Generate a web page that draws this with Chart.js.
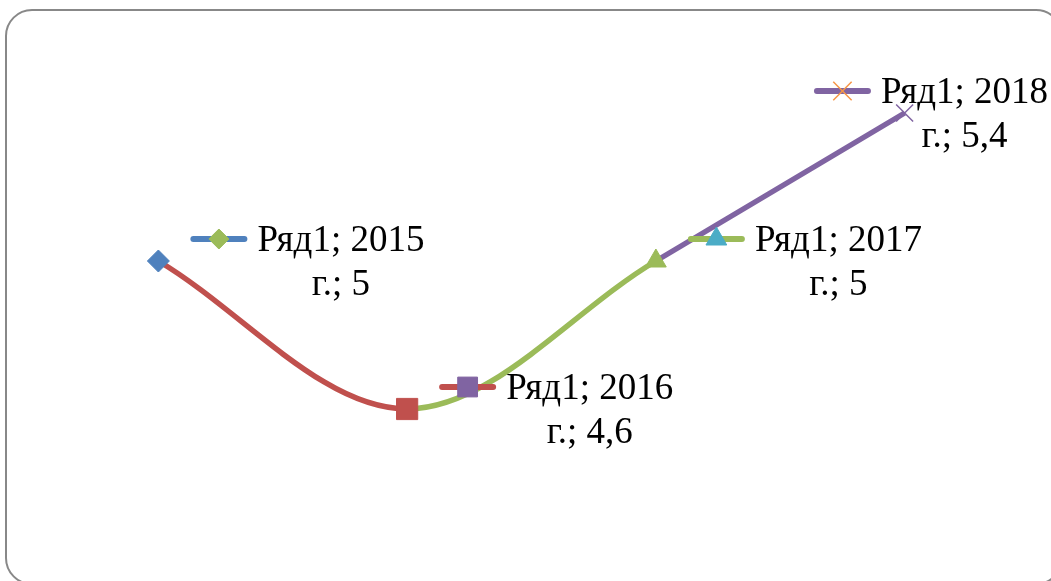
<!DOCTYPE html>
<html>
<head>
<meta charset="utf-8">
<script src="https://cdn.jsdelivr.net/npm/chart.js@4/dist/chart.umd.min.js"></script>
<style>
html,body{margin:0;padding:0;background:#fff;}
#wrap{width:1051px;height:581px;position:relative;}
</style>
</head>
<body>
<div id="wrap"><canvas id="c" width="1051" height="581"></canvas></div>
<script>
// Data
const seriesName = 'Ряд1';
const categories = ['2015 г.', '2016 г.', '2017 г.', '2018 г.'];
const values = [5, 4.6, 5, 5.4];
const valueLabels = ['5', '4,6', '5', '5,4'];

// Styles
const pointColors = ['#4F81BD', '#C0504D', '#9BBB59', '#8064A2'];
const segmentColors = ['#C0504D', '#9BBB59', '#8064A2'];
const pointStyles = ['rectRot', 'rect', 'triangle', 'crossRot'];
const pointRadii = [11, 15, 12, 12];
const keyRadii = [10, 14, 12, 13];
const keyLineColors = ['#4F81BD', '#C0504D', '#9BBB59', '#8064A2'];
const keyMarkerColors = ['#9BBB59', '#8064A2', '#4BACC6', '#F79646'];

const FONT = '37px "Liberation Serif", "Times New Roman", serif';

const frame = {
  id: 'frame',
  beforeDraw(chart) {
    const ctx = chart.ctx;
    ctx.save();
    ctx.fillStyle = '#fff';
    ctx.fillRect(0, 0, chart.width, chart.height);
    ctx.strokeStyle = '#888';
    ctx.lineWidth = 2;
    ctx.beginPath();
    ctx.roundRect(6, 10, 1056, 574, 26);
    ctx.stroke();
    ctx.restore();
  }
};

const labels = {
  id: 'labels',
  afterDatasetsDraw(chart) {
    const ctx = chart.ctx;
    const meta = chart.getDatasetMeta(0);
    ctx.save();
    ctx.font = FONT;
    ctx.textBaseline = 'middle';
    ctx.fillStyle = '#000';
    meta.data.forEach((pt, i) => {
      const line1 = seriesName + '; ' + categories[i].split(' ')[0];
      const line2 = categories[i].split(' ')[1] + '; ' + valueLabels[i];
      const w1 = ctx.measureText(line1).width;
      const keyLen = 57, gap = 10;
      const total = keyLen + gap + w1;
      let left = pt.x + 32;
      if (left + total > chart.width - 3) left = chart.width - 3 - total;
      const y1 = pt.y - 22;
      const y2 = y1 + 44;
      // legend key
      ctx.strokeStyle = keyLineColors[i];
      ctx.lineWidth = 6;
      ctx.lineCap = 'round';
      ctx.beginPath();
      ctx.moveTo(left + 3, y1);
      ctx.lineTo(left + keyLen - 3, y1);
      ctx.stroke();
      const isCross = pointStyles[i] === 'crossRot';
      ctx.fillStyle = keyMarkerColors[i];
      ctx.strokeStyle = keyMarkerColors[i];
      ctx.lineWidth = isCross ? 1.5 : 1;
      ctx.lineCap = 'butt';
      Chart.helpers.drawPoint(ctx, {
        pointStyle: pointStyles[i],
        radius: keyRadii[i],
        borderWidth: isCross ? 1.5 : 1,
        rotation: 0
      }, left + keyLen / 2, y1);
      // text
      ctx.fillStyle = '#000';
      const tx = left + keyLen + gap;
      ctx.textAlign = 'left';
      ctx.fillText(line1, tx, y1 + 2);
      ctx.textAlign = 'center';
      ctx.fillText(line2, tx + w1 / 2, y2 + 2);
    });
    ctx.restore();
  }
};

new Chart(document.getElementById('c'), {
  type: 'line',
  data: {
    labels: categories,
    datasets: [{
      label: seriesName,
      data: values,
      borderWidth: 5.5,
      tension: 0.34,
      fill: false,
      segment: {
        borderColor: ctx => segmentColors[ctx.p0DataIndex]
      },
      borderColor: '#C0504D',
      pointStyle: pointStyles,
      pointRadius: pointRadii,
      pointHoverRadius: pointRadii,
      pointBackgroundColor: pointColors,
      pointBorderColor: pointColors,
      pointBorderWidth: [1, 1, 1, 1.5]
    }]
  },
  options: {
    responsive: false,
    animation: false,
    events: [],
    layout: { padding: { left: 34, right: 22, top: 39, bottom: 24 } },
    plugins: { legend: { display: false }, tooltip: { enabled: false }, title: { display: false } },
    scales: {
      x: { display: false, offset: true },
      y: { display: false, min: 4.2, max: 5.6 }
    }
  },
  plugins: [frame, labels]
});
</script>
</body>
</html>
